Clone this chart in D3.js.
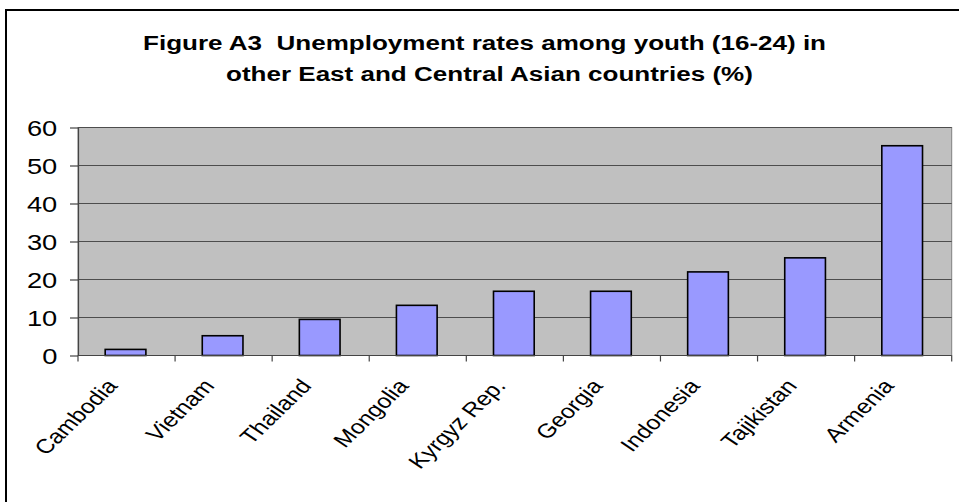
<!DOCTYPE html>
<html>
<head>
<meta charset="utf-8">
<script src="https://cdn.jsdelivr.net/npm/d3@7"></script>
<style>
  html, body { margin: 0; padding: 0; background: #fff; }
  svg { display: block; font-family: Arial, "Liberation Sans", sans-serif; }
  .title { white-space: pre; }
</style>
</head>
<body>
<svg id="chart" width="959" height="502"></svg>
<script>
// Youth (16-24) unemployment rates, %
const countries = ["Cambodia", "Vietnam", "Thailand", "Mongolia", "Kyrgyz Rep.", "Georgia", "Indonesia", "Tajikistan", "Armenia"];
const rates = [1.6, 5.2, 9.5, 13.2, 16.9, 16.9, 22.0, 25.7, 55.2];
const yTicks = [0, 10, 20, 30, 40, 50, 60];
const titleLines = ["Figure A3  Unemployment rates among youth (16-24) in", "other East and Central Asian countries (%)"];

const svg = d3.select("#chart");
const plot = { left: 78, right: 951.7, top: 127.5, bottom: 355.5 };
const stretch = 1.24; // horizontal text stretch

// outer frame
svg.append("rect")
  .attr("x", 6).attr("y", 10)
  .attr("width", 980).attr("height", 520)
  .attr("fill", "none").attr("stroke", "#000").attr("stroke-width", 2);

// title
const titleX = [143, 226];
const titleY = [50, 81];
titleLines.forEach((t, i) => {
  svg.append("text")
    .attr("class", "title")
    .attr("xml:space", "preserve")
    .attr("transform", `translate(${titleX[i]},${titleY[i]}) scale(${stretch},1)`)
    .attr("font-size", 21).attr("font-weight", "bold").attr("fill", "#000")
    .text(t);
});

const x = d3.scaleBand().domain(countries).range([plot.left, plot.right]).paddingInner(0).paddingOuter(0);
const y = d3.scaleLinear().domain([0, 60]).range([plot.bottom, plot.top]);

// plot background
svg.append("rect")
  .attr("x", plot.left).attr("y", plot.top)
  .attr("width", plot.right - plot.left).attr("height", plot.bottom - plot.top)
  .attr("fill", "#c0c0c0").attr("stroke", "#808080").attr("stroke-width", 1);

// gridlines
svg.append("g").selectAll("line")
  .data(yTicks.filter(v => v > 0))
  .join("line")
  .attr("x1", plot.left).attr("x2", plot.right)
  .attr("y1", d => y(d)).attr("y2", d => y(d))
  .attr("stroke", "#4d4d4d").attr("stroke-width", 1.2);

// bars
const barW = 40.7;
svg.append("g").selectAll("rect")
  .data(countries.map((c, i) => ({ c, v: rates[i] })))
  .join("rect")
  .attr("x", d => x(d.c) + x.bandwidth() / 2 - barW / 2 - 1)
  .attr("y", d => y(d.v))
  .attr("width", barW)
  .attr("height", d => y(0) - y(d.v))
  .attr("fill", "#9999ff").attr("stroke", "#000").attr("stroke-width", 1.6);

// y axis
const yAxis = svg.append("g")
  .attr("transform", `translate(${plot.left},0)`)
  .call(d3.axisLeft(y).tickValues(yTicks).tickSize(8).tickSizeOuter(0).tickFormat(d3.format("d")));
yAxis.select(".domain").attr("stroke", "#444").attr("stroke-width", 1.2);
yAxis.selectAll(".tick line").attr("stroke", "#444").attr("stroke-width", 1.2);
yAxis.selectAll(".tick text")
  .attr("x", null).attr("dy", null)
  .attr("transform", `translate(-20.7,8) scale(${stretch},1)`)
  .attr("font-size", 22).attr("fill", "#000")
  .attr("font-family", "Arial, 'Liberation Sans', sans-serif")
  .attr("text-anchor", "end");

// x axis with ticks at category boundaries
const bounds = countries.map(c => x(c)).concat([plot.right]);
svg.append("line")
  .attr("x1", plot.left).attr("x2", plot.right)
  .attr("y1", plot.bottom).attr("y2", plot.bottom)
  .attr("stroke", "#444").attr("stroke-width", 1.2);
svg.append("g").selectAll("line")
  .data(bounds)
  .join("line")
  .attr("x1", d => d).attr("x2", d => d)
  .attr("y1", plot.bottom).attr("y2", plot.bottom + 6)
  .attr("stroke", "#444").attr("stroke-width", 1.2);

// rotated category labels
svg.append("g").selectAll("text")
  .data(countries)
  .join("text")
  .attr("transform", d => `translate(${x(d) + x.bandwidth() / 2 - 8},${plot.bottom + 31}) scale(${stretch},1) rotate(-50)`)
  .attr("text-anchor", "end")
  .attr("font-size", 20).attr("fill", "#000")
  .text(d => d);
</script>
</body>
</html>
